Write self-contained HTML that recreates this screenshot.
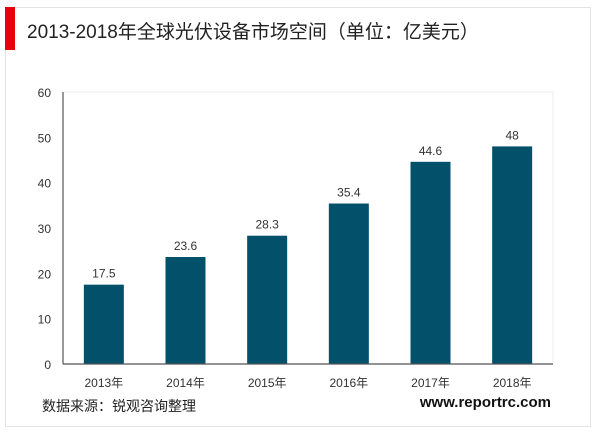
<!DOCTYPE html>
<html><head><meta charset="utf-8"><style>
body{margin:0;width:600px;height:433px;background:#fff;overflow:hidden;font-family:"Liberation Sans","Noto Sans CJK SC",sans-serif}
#frame{position:absolute;left:5px;top:7px;width:586px;height:420px;border:1px solid #e3e3e3;box-sizing:border-box}
#redbar{position:absolute;left:5px;top:7px;width:10px;height:43px;background:#e8000b}
#title{position:absolute;left:27px;top:17px;font-size:19px;color:#222;white-space:nowrap}
#src{position:absolute;left:42px;top:396px;font-size:14px;color:#222}
#url{position:absolute;right:49px;top:394px;font-size:15px;font-weight:bold;color:#111}
svg{position:absolute;left:0;top:0}
</style></head><body>
<div id="frame"></div>
<div id="redbar"></div>
<div id="title">2013-2018年全球光伏设备市场空间（单位：亿美元）</div>
<svg id="chart" width="600" height="433"></svg>
<div id="src">数据来源：锐观咨询整理</div>
<div id="url">www.reportrc.com</div>
<script>
const categories=["2013年","2014年","2015年","2016年","2017年","2018年"];
const values=[17.5,23.6,28.3,35.4,44.6,48];
const valueLabels=["17.5","23.6","28.3","35.4","44.6","48"];
const yTicks=[0,10,20,30,40,50,60];
const svg=document.getElementById('chart');
const NS='http://www.w3.org/2000/svg';
const L=63,R=553,T=92,B=364,yMax=60;
const y=v=>B-(v/yMax)*(B-T);
const band=(R-L)/categories.length;
const x=i=>L+band*(i+0.5);
function mk(t,a){const e=document.createElementNS(NS,t);for(const k in a)e.setAttribute(k,a[k]);svg.appendChild(e);return e;}
let e=mk('rect',{x:L,y:T,width:R-L,height:B-T,fill:'none',stroke:'#ececec'});


yTicks.forEach(v=>{const t=mk('text',{x:L-12,y:y(v)+5,'text-anchor':'end','font-size':'12',fill:'#333'});t.textContent=v;

});
categories.forEach((c,i)=>{
const r=mk('rect',{x:x(i)-20,y:y(values[i]),width:40,height:B-y(values[i]),fill:'#03506b'});


const l=mk('text',{x:x(i),y:y(values[i])-7,'text-anchor':'middle','font-size':'12',fill:'#333'});l.textContent=valueLabels[i];


const xl=mk('text',{x:x(i),y:B+23,'text-anchor':'middle','font-size':'12',fill:'#333'});xl.textContent=c;


});
e=mk('line',{x1:L,y1:T,x2:L,y2:B,stroke:'#555','stroke-width':1.2});


e=mk('line',{x1:L,y1:B,x2:R,y2:B,stroke:'#555','stroke-width':1.2});


</script>
</body></html>
